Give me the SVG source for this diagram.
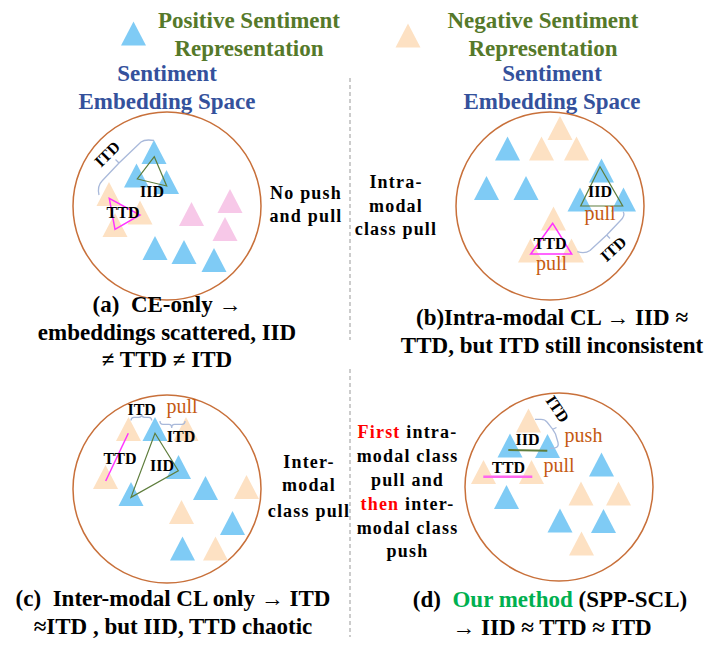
<svg xmlns="http://www.w3.org/2000/svg" xmlns:xlink="http://www.w3.org/1999/xlink" width="716" height="656" viewBox="0 0 716 656">
<style>
.b{fill:#7FCBF5}
.p{fill:#FDE1C3}
.k{fill:#F7C8E8}
.circ{fill:none;stroke:#C8703A;stroke-width:1.5}
.t{font-family:"Liberation Serif","Times New Roman",serif;font-weight:bold;text-anchor:middle}
.leg{font-size:23px;fill:#55792A}
.space{font-size:23px;fill:#34519C}
.cap{font-size:23px;fill:#000}
.mid{font-size:18px;fill:#000;letter-spacing:1.2px}
.lab{font-size:16px;fill:#000}
.or{font-family:"Liberation Serif","Times New Roman",serif;font-size:20px;fill:#C55A11;text-anchor:middle}
.brace{fill:none;stroke:#A9B9DA;stroke-width:1.3}
.iid{fill:none;stroke:#5E7D3C;stroke-width:1.2}
.ttd{fill:none;stroke:#FF33FF;stroke-width:1.5}
.dash{stroke:#999;stroke-width:1;stroke-dasharray:4,3}
</style>
<defs>
<path id="tri" d="M0,0 L12.5,24 L-12.5,24 Z"/>
</defs>
<rect width="716" height="656" fill="#fff"/>

<g id="legend">
<use href="#tri" class="b" x="133.5" y="21.5"/>
<use href="#tri" class="p" x="408" y="23.5"/>
<text class="t leg" x="249" y="28">Positive Sentiment</text>
<text class="t leg" x="249" y="56">Representation</text>
<text class="t leg" x="543" y="28">Negative Sentiment</text>
<text class="t leg" x="543" y="56">Representation</text>
</g>

<g id="connectors">
<line class="dash" x1="350" y1="78" x2="350" y2="340"/>
<line class="dash" x1="350" y1="369" x2="350" y2="637"/>
</g>

<g id="panel-a">
<text class="t space" x="167" y="81">Sentiment</text>
<text class="t space" x="167" y="109">Embedding Space</text>
<circle class="circ" cx="167" cy="206" r="94"/>
<use href="#tri" class="b" x="154" y="140"/>
<use href="#tri" class="b" x="136.5" y="163.5"/>
<use href="#tri" class="b" x="166.5" y="170"/>
<use href="#tri" class="p" x="109" y="182"/>
<use href="#tri" class="p" x="140" y="200.5"/>
<use href="#tri" class="p" x="115" y="213"/>
<use href="#tri" class="k" x="191.5" y="202"/>
<use href="#tri" class="k" x="230" y="189"/>
<use href="#tri" class="k" x="225" y="217"/>
<use href="#tri" class="b" x="155" y="236"/>
<use href="#tri" class="b" x="184" y="240"/>
<use href="#tri" class="b" x="214" y="248"/>
<polygon class="iid" points="154.3,156.7 137.3,179 166.7,186"/>
<polygon class="ttd" points="109.3,198.3 140,215 115,229.3"/>
<path class="brace" d="M99,195 Q97,186 102,181 L119,163 L141,142 Q145,139 154,140.5 M119,163 L115.5,159.5"/>
<text class="t lab" transform="translate(111,158) rotate(-45)">ITD</text>
<text class="t lab" x="152" y="197">IID</text>
<text class="t lab" x="123" y="218">TTD</text>
<text class="t cap" x="167" y="312">(a)&#160; CE-only →</text>
<text class="t cap" x="167" y="339.5">embeddings scattered, IID</text>
<text class="t cap" x="167" y="367">≠ TTD ≠ ITD</text>
</g>

<g id="mid-a">
<text class="t mid" x="306" y="199">No push</text>
<text class="t mid" x="306" y="222">and pull</text>
</g>

<g id="panel-b">
<text class="t space" x="552" y="81">Sentiment</text>
<text class="t space" x="552" y="109">Embedding Space</text>
<circle class="circ" cx="550" cy="206" r="94"/>
<use href="#tri" class="p" x="560" y="116"/>
<use href="#tri" class="b" x="507.5" y="136.5"/>
<use href="#tri" class="p" x="541.5" y="136.5"/>
<use href="#tri" class="p" x="576.5" y="136.5"/>
<use href="#tri" class="b" x="601.5" y="158.5"/>
<use href="#tri" class="b" x="486.5" y="176"/>
<use href="#tri" class="b" x="526" y="176"/>
<use href="#tri" class="b" x="580" y="187.5"/>
<use href="#tri" class="b" x="623.5" y="187.5"/>
<use href="#tri" class="p" x="553.5" y="206.5"/>
<use href="#tri" class="p" x="530.5" y="238.5"/>
<use href="#tri" class="p" x="571.5" y="238.5"/>
<polygon class="iid" points="600,166.7 580.7,206 622.7,206"/>
<polygon class="ttd" points="552.7,223.3 530.7,254 571.7,254"/>
<path class="brace" d="M623.3,211.7 Q625.5,216 620,221 L606.7,235 L590,250.5 Q585,254 577.3,251.7 M606.7,235 L610,238.5"/>
<text class="t lab" x="600" y="197">IID</text>
<text class="or" x="600" y="220">pull</text>
<text class="t lab" x="550" y="249">TTD</text>
<text class="or" x="551.5" y="270">pull</text>
<text class="t lab" transform="translate(617,253) rotate(-42)">ITD</text>
<text class="t cap" x="552" y="325">(b)Intra-modal CL → IID ≈</text>
<text class="t cap" x="552" y="353">TTD, but ITD still inconsistent</text>
</g>

<g id="mid-b">
<text class="t mid" x="396" y="188">Intra-</text>
<text class="t mid" x="396" y="211.5">modal</text>
<text class="t mid" x="396" y="235">class pull</text>
</g>

<g id="panel-c">
<circle class="circ" cx="167" cy="489" r="94"/>
<use href="#tri" class="p" x="128.5" y="417"/>
<use href="#tri" class="b" x="155" y="417"/>
<use href="#tri" class="p" x="186" y="417"/>
<use href="#tri" class="p" x="105.5" y="465"/>
<use href="#tri" class="b" x="178.5" y="455"/>
<use href="#tri" class="b" x="205.5" y="476"/>
<use href="#tri" class="p" x="246.5" y="475"/>
<use href="#tri" class="b" x="131" y="482"/>
<use href="#tri" class="p" x="181.5" y="500"/>
<use href="#tri" class="b" x="232.5" y="511"/>
<use href="#tri" class="b" x="182.5" y="536.5"/>
<use href="#tri" class="p" x="215.5" y="536.5"/>
<polygon class="iid" points="155,433.3 178.3,470.7 131,497.3"/>
<line class="ttd" x1="128.3" y1="433.3" x2="105.7" y2="481"/>
<path class="brace" d="M131,420.5 Q131,417.3 134,417.3 L139,417.3 Q141.7,417.3 141.7,414.5 Q141.7,417.3 144.5,417.3 L149,417.3 Q151.7,417.3 151.7,420.5"/>
<path class="brace" d="M160,421 Q160,424.3 163,424.3 L169,424.3 Q171.7,424.3 171.7,428 Q171.7,424.3 174.5,424.3 L182,424.3 Q185,424.3 185,421"/>
<text class="t lab" x="141.7" y="415">ITD</text>
<text class="or" x="182" y="413">pull</text>
<text class="t lab" x="181" y="442">ITD</text>
<text class="t lab" x="120" y="464">TTD</text>
<text class="t lab" x="162" y="471">IID</text>
<text class="t cap" x="173" y="606">(c)&#160; Inter-modal CL only → ITD</text>
<text class="t cap" x="173" y="634">≈ITD , but IID, TTD chaotic</text>
</g>

<g id="mid-c">
<text class="t mid" x="309" y="468">Inter-</text>
<text class="t mid" x="309" y="491">modal</text>
<text class="t mid" x="309" y="516.5">class pull</text>
</g>

<g id="panel-d">
<circle class="circ" cx="559" cy="487" r="94"/>
<use href="#tri" class="p" x="528.5" y="408.5"/>
<use href="#tri" class="b" x="510" y="433.5"/>
<use href="#tri" class="b" x="547.5" y="434"/>
<use href="#tri" class="p" x="483.5" y="460"/>
<use href="#tri" class="p" x="531.5" y="460"/>
<use href="#tri" class="b" x="601.5" y="452.5"/>
<use href="#tri" class="b" x="506.5" y="485"/>
<use href="#tri" class="p" x="581" y="481.5"/>
<use href="#tri" class="p" x="618.5" y="481.5"/>
<use href="#tri" class="b" x="560" y="508.5"/>
<use href="#tri" class="b" x="603.5" y="509"/>
<use href="#tri" class="p" x="581.5" y="531.5"/>
<line x1="508.3" y1="450" x2="547.3" y2="450.7" stroke="#5E7D3C" stroke-width="2"/>
<line x1="483.3" y1="476.7" x2="532.3" y2="476.7" stroke="#FF66EE" stroke-width="2.5"/>
<path class="brace" d="M535,419.3 L541,419.3 Q545,419.3 547,422 L552.7,429.3 L556.5,427.5 M552.7,429.3 L555.5,434 L558,442.5 Q559,447 555,447.8 L550,448.3"/>
<text class="t lab" transform="translate(553,412) rotate(56)">ITD</text>
<text class="or" x="583.5" y="442">push</text>
<text class="t lab" x="527.5" y="445">IID</text>
<text class="t lab" x="508.5" y="472.5">TTD</text>
<text class="or" x="559" y="472">pull</text>
<text class="t cap" x="550" y="607">(d)&#160; <tspan fill="#00B050">Our method</tspan> (SPP-SCL)</text>
<text class="t cap" x="552" y="635">→ IID ≈ TTD ≈ ITD</text>
</g>

<g id="mid-d">
<text class="t mid" x="407.5" y="438"><tspan fill="#FF0000">First</tspan> intra-</text>
<text class="t mid" x="407.5" y="462">modal class</text>
<text class="t mid" x="407.5" y="486">pull and</text>
<text class="t mid" x="407.5" y="510"><tspan fill="#FF0000">then</tspan> inter-</text>
<text class="t mid" x="407.5" y="533.5">modal class</text>
<text class="t mid" x="407.5" y="557">push</text>
</g>
</svg>
